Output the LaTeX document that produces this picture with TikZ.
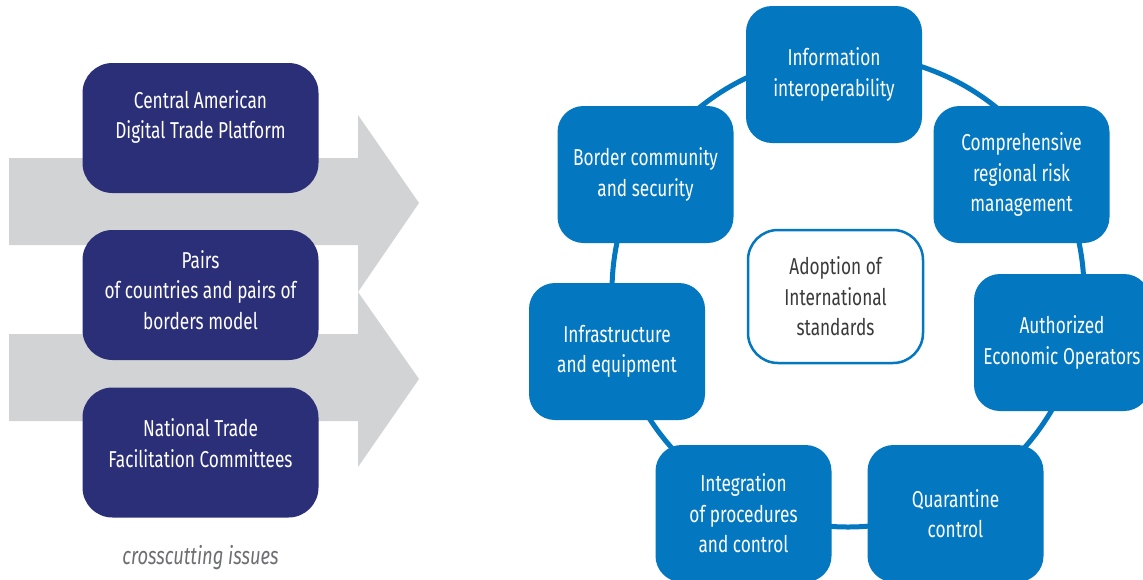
\documentclass[tikz,border=0pt]{standalone}
\usepackage{fontspec}
\setmainfont{Fira Sans}[FakeStretch=0.75]
\definecolor{navy}{HTML}{2B2F78}
\definecolor{ringblue}{HTML}{0377C0}
\definecolor{arrowgray}{HTML}{D1D3D4}
\definecolor{txtgray}{HTML}{6D6E71}
\definecolor{darktxt}{HTML}{3A3A3C}
\tikzset{
  navybox/.style={fill=navy, draw=none, rounded corners=30pt, minimum width=236pt, minimum height=130pt, inner sep=0pt},
  navytext/.style={text=white, align=center, font=\fontsize{23}{30.5}\selectfont, inner sep=0pt},
  bluebox/.style={fill=ringblue, draw=none, rounded corners=26pt, minimum width=176pt, minimum height=137pt, inner sep=0pt, text=white, align=center, font=\fontsize{23}{30.5}\selectfont},
  centerbox/.style={fill=white, draw=ringblue, line width=2.5pt, rounded corners=30pt, minimum width=175pt, minimum height=133pt, inner sep=0pt, text=darktxt, align=center, font=\fontsize{23}{30.5}\selectfont},
  ring/.style={draw=ringblue, line width=5pt},
  grayarrow/.style={fill=arrowgray, draw=none}
}
\begin{document}
\begin{tikzpicture}[x=1pt, y=-1pt]
\clip (0,0) rectangle (1143,579);
\fill[white] (0,0) rectangle (1143,579);
% gray arrows
\fill[grayarrow] (9,158) -- (358,158) -- (358,115) -- (419,203) -- (358,292) -- (358,245) -- (9,245) -- cycle;
\fill[grayarrow] (9,334) -- (358,334) -- (358,292) -- (419,379) -- (358,467) -- (358,421) -- (9,421) -- cycle;
% left boxes
\node[navybox] (b1) at (200.5,128) {};
\node[navytext] (t1) at (200.5,117) {Central American\\Digital Trade Platform};
\node[navybox] (b2) at (200.5,295) {};
\node[navytext] (t2) at (200.5,290) {Pairs\\of countries and pairs of\\borders model};
\node[navybox] (b3) at (200.5,452.5) {};
\node[navytext] (t3) at (200.5,443) {National Trade\\Facilitation Committees};
\node[text=txtgray, font=\itshape\fontsize{24.5}{28}\selectfont] (cross) at (200.5,558) {crosscutting issues};
% ring
\coordinate (rc) at (848,291);
\draw[ring] (rc) circle (236pt);
% ring boxes
\node[bluebox] (info) at (834,74.5) {Information\\interoperability};
\node[bluebox] (comp) at (1021.5,174.5) {Comprehensive\\regional risk\\management};
\node[bluebox] (auth) at (1062,342.5) {Authorized\\Economic Operators};
\node[bluebox] (quar) at (955.5,513.5) {Quarantine\\control};
\node[bluebox] (integ) at (743.5,513.5) {Integration\\of procedures\\and control};
\node[bluebox] (infra) at (617,351.5) {Infrastructure\\and equipment};
\node[bluebox] (border) at (645.5,174.5) {Border community\\and security};
\node[centerbox] (adopt) at (835.5,296.5) {Adoption of\\International\\standards};
\end{tikzpicture}
\end{document}
